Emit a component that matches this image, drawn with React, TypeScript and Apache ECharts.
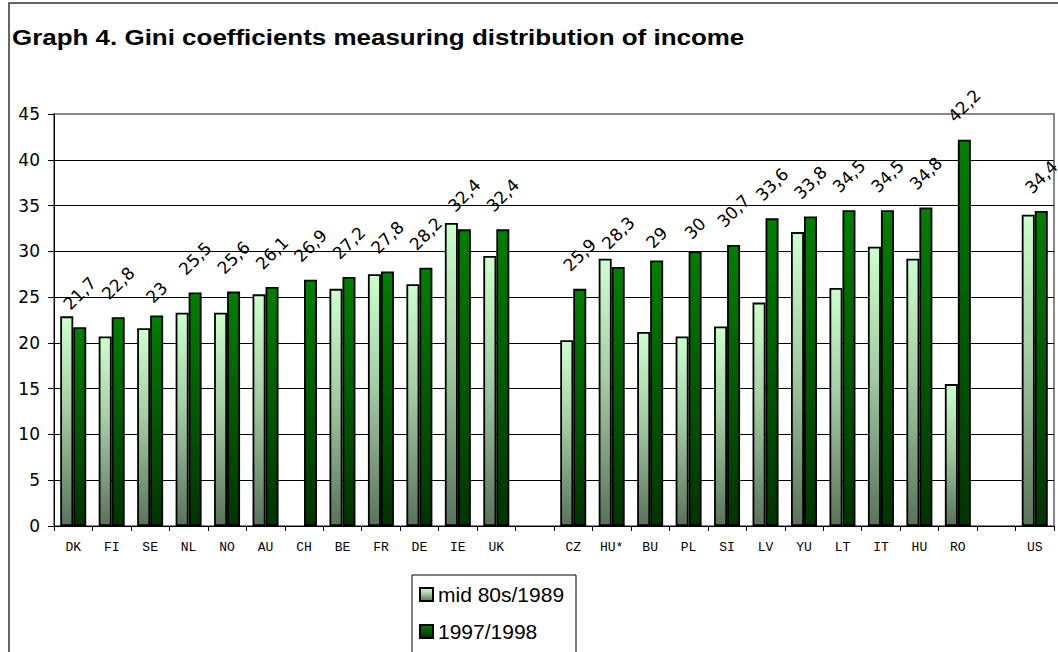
import React, { useEffect, useRef } from "react";
import * as echarts from "echarts";

const categories = ["DK", "FI", "SE", "NL", "NO", "AU", "CH", "BE", "FR", "DE", "IE", "UK", "", "CZ", "HU*", "BU", "PL", "SI", "LV", "YU", "LT", "IT", "HU", "RO", "", "US"];
const mid80s = [22.9, 20.7, 21.6, 23.3, 23.3, 25.3, null, 25.9, 27.5, 26.4, 33.1, 29.5, null, 20.3, 29.2, 21.2, 20.7, 21.8, 24.4, 32.1, 26.0, 30.5, 29.2, 15.5, null, 34.0];
const y1997 = [21.7, 22.8, 23, 25.5, 25.6, 26.1, 26.9, 27.2, 27.8, 28.2, 32.4, 32.4, null, 25.9, 28.3, 29, 30, 30.7, 33.6, 33.8, 34.5, 34.5, 34.8, 42.2, null, 34.4];
const yTicks = { min: 0, max: 45, interval: 5 };
const seriesNames = ["mid 80s/1989", "1997/1998"];
const titleText = "Graph 4. Gini coefficients measuring distribution of income";

const fmt = (v: number) => String(v).replace(".", ",");

export default function App() {
  const ref = useRef<HTMLDivElement>(null);
  useEffect(() => {
    document.body.style.margin = "0";
    const chart = echarts.init(ref.current!, null, { renderer: "svg" });
    const g1 = new echarts.graphic.LinearGradient(0, 0, 0, 1, [
      { offset: 0, color: "#CCFFCC" },
      { offset: 0.45, color: "#A3CCA3" },
      { offset: 1, color: "#5A735A" },
    ]);
    const g2 = new echarts.graphic.LinearGradient(0, 0, 0, 1, [
      { offset: 0, color: "#008000" },
      { offset: 1, color: "#003300" },
    ]);
    const splitColors = Array.from({ length: 9 }, () => "#000").concat(["#888"]);
    const legendText = { fontFamily: "Liberation Sans, Arial", fontSize: 21, color: "#000" };
    chart.setOption({
      animation: false,
      graphic: [
        {
          type: "rect",
          shape: { x: 9, y: 3, width: 1200, height: 800 },
          style: { fill: "none", stroke: "#333", lineWidth: 1.5 },
          silent: true,
        },
        {
          type: "rect",
          shape: { x: 412, y: 575, width: 164, height: 120 },
          style: { fill: "#fff", stroke: "#000", lineWidth: 1 },
          silent: true,
          z: -1,
        },
        {
          type: "text",
          x: 12,
          y: 26,
          scaleX: 1.18,
          style: {
            text: titleText,
            fontFamily: "Liberation Sans, Arial",
            fontWeight: "bold",
            fontSize: 22,
            fill: "#000",
          },
        },
      ],
      legend: [
        {
          left: 419,
          top: 584,
          itemWidth: 13,
          itemHeight: 13,
          itemGap: 0,
          icon: "rect",
          padding: 0,
          textStyle: legendText,
          data: [seriesNames[0]],
        },
        {
          left: 419,
          top: 621,
          itemWidth: 13,
          itemHeight: 13,
          itemGap: 0,
          icon: "rect",
          padding: 0,
          textStyle: legendText,
          data: [seriesNames[1]],
        },
      ],
      grid: {
        left: 54,
        right: 4,
        top: 114,
        bottom: 126,
        show: true,
        borderColor: "#888",
        borderWidth: 2,
      },
      xAxis: {
        type: "category",
        data: categories,
        axisLine: { lineStyle: { color: "#000", width: 1 } },
        axisTick: { show: true, interval: 0, length: 5, lineStyle: { color: "#000" } },
        axisLabel: {
          interval: 0,
          margin: 15,
          fontFamily: "Liberation Mono, Courier New",
          fontSize: 13,
          color: "#000",
        },
      },
      yAxis: {
        type: "value",
        min: yTicks.min,
        max: yTicks.max,
        interval: yTicks.interval,
        axisLine: { show: true, lineStyle: { color: "#000", width: 1 } },
        axisTick: { show: true, length: 6, lineStyle: { color: "#000" } },
        axisLabel: {
          margin: 14,
          fontFamily: "DejaVu Sans",
          fontSize: 17,
          color: "#000",
        },
        splitLine: { lineStyle: { color: splitColors, width: 1 } },
      },
      series: [
        {
          name: seriesNames[0],
          type: "bar",
          data: mid80s,
          barWidth: 13,
          barGap: "0%",
          itemStyle: { color: g1, borderColor: "#000", borderWidth: 1.8 },
        },
        {
          name: seriesNames[1],
          type: "bar",
          barWidth: 13,
          data: y1997.map((v) =>
            v == null
              ? null
              : { value: v, label: { distance: 12 + fmt(v).length * 5.5 } }
          ),
          itemStyle: { color: g2, borderColor: "#000", borderWidth: 1.8 },
          label: {
            show: true,
            position: "top",
            rotate: 45,
            align: "center",
            verticalAlign: "middle",
            fontFamily: "DejaVu Sans",
            fontSize: 17,
            color: "#000",
            formatter: (p: any) => fmt(p.value),
          },
        },
      ],
    });
    return () => chart.dispose();
  }, []);
  return <div ref={ref} style={{ width: 1058, height: 652 }} />;
}
